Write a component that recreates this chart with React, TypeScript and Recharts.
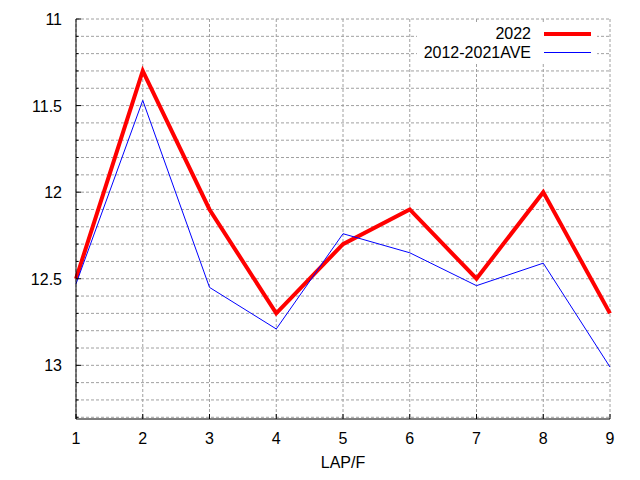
import React from "react";
import {
  LineChart,
  Line,
  XAxis,
  YAxis,
  CartesianGrid,
  Legend,
} from "recharts";

const laps = [1, 2, 3, 4, 5, 6, 7, 8, 9];
const time2022 = [12.5, 11.3, 12.1, 12.7, 12.3, 12.1, 12.5, 12.0, 12.7];
const timeAve = [12.53, 11.47, 12.55, 12.79, 12.24, 12.35, 12.54, 12.41, 13.01];

const xTicks = [1, 2, 3, 4, 5, 6, 7, 8, 9];
const yMajorTicks = [11, 11.5, 12, 12.5, 13];
const yMinorTicks = [
  11.1, 11.2, 11.3, 11.4, 11.6, 11.7, 11.8, 11.9, 12.1, 12.2, 12.3, 12.4,
  12.6, 12.7, 12.8, 12.9, 13.1, 13.2, 13.3,
];
const yAllTicks = [...yMajorTicks, ...yMinorTicks].sort((a, b) => a - b);

const data = laps.map((lap, i) => ({
  lap,
  y2022: time2022[i],
  ave: timeAve[i],
}));

const FONT = "'Liberation Sans', Arial, sans-serif";
const FS = 16;

const LeftTick = (props: any) => {
  const { x, y, payload } = props;
  const major = yMajorTicks.includes(payload.value);
  return (
    <g>
      <line x1={x} x2={x + (major ? 5 : 2.5)} y1={y} y2={y} stroke="#000" />
      {major && (
        <text x={x - 14} y={y + 6} textAnchor="end" fontSize={FS} fontFamily={FONT} fill="#000">
          {payload.value}
        </text>
      )}
    </g>
  );
};

const RightTick = (props: any) => {
  const { x, y, payload } = props;
  const major = yMajorTicks.includes(payload.value);
  return <line x1={x} x2={x - (major ? 5 : 2.5)} y1={y} y2={y} stroke="#000" />;
};

const BottomTick = (props: any) => {
  const { x, y, payload } = props;
  return (
    <g>
      <line x1={x} x2={x} y1={y} y2={y - 5} stroke="#000" />
      <text x={x} y={y + 25} textAnchor="middle" fontSize={FS} fontFamily={FONT} fill="#000">
        {payload.value}
      </text>
    </g>
  );
};

const TopTick = (props: any) => {
  const { x, y } = props;
  return <line x1={x} x2={x} y1={y} y2={y + 5} stroke="#000" />;
};

const legendRows = [
  { name: "2022", color: "#ff0000", width: 4 },
  { name: "2012-2021AVE", color: "#0000ff", width: 1 },
];

const KeyBox = () => (
  <div style={{ background: "#fff", width: 180, paddingTop: 1, paddingBottom: 1 }}>
    {legendRows.map((r) => (
      <div
        key={r.name}
        style={{
          display: "flex",
          justifyContent: "flex-end",
          alignItems: "center",
          height: 19,
          paddingRight: 6,
        }}
      >
        <span style={{ fontFamily: FONT, fontSize: FS, color: "#000", marginRight: 13 }}>
          {r.name}
        </span>
        <div style={{ width: 47, height: r.width, background: r.color }} />
      </div>
    ))}
  </div>
);

export default function App() {
  return (
    <div style={{ position: "absolute", left: 0, top: 0, background: "#fff" }}>
      <LineChart
        width={640}
        height={480}
        data={data}
        margin={{ top: 19, right: 30, bottom: 23, left: 0 }}
      >
        <CartesianGrid
          stroke="#a0a0a0"
          strokeDasharray="3 2"
          horizontalValues={yAllTicks}
          verticalValues={xTicks}
        />
        <XAxis
          dataKey="lap"
          type="number"
          domain={[1, 9]}
          ticks={xTicks}
          interval={0}
          height={38}
          tickSize={0}
          tickMargin={0}
          tickLine={false}
          axisLine={{ stroke: "#000" }}
          tick={<BottomTick />}
          label={{
            value: "LAP/F",
            position: "bottom",
            offset: 0,
            fontSize: FS,
            fontFamily: FONT,
            fill: "#000",
          }}
        />
        <XAxis
          xAxisId="top"
          orientation="top"
          dataKey="lap"
          type="number"
          domain={[1, 9]}
          ticks={xTicks}
          interval={0}
          height={0}
          tickSize={0}
          tickMargin={0}
          tickLine={false}
          axisLine={{ stroke: "#000" }}
          tick={<TopTick />}
        />
        <YAxis
          type="number"
          reversed
          domain={[11, 13.31]}
          allowDataOverflow
          ticks={yAllTicks}
          interval={0}
          width={76}
          tickSize={0}
          tickMargin={0}
          tickLine={false}
          axisLine={{ stroke: "#000" }}
          tick={<LeftTick />}
        />
        <YAxis
          yAxisId="right"
          orientation="right"
          type="number"
          reversed
          domain={[11, 13.31]}
          allowDataOverflow
          ticks={yAllTicks}
          interval={0}
          width={0}
          tickSize={0}
          tickMargin={0}
          tickLine={false}
          axisLine={{ stroke: "#000" }}
          tick={<RightTick />}
        />
        <Legend
          layout="horizontal"
          align="center"
          verticalAlign="middle"
          content={<KeyBox />}
          wrapperStyle={{ position: "absolute", top: 23, left: 417, width: 180, margin: 0 }}
        />
        <Line
          type="linear"
          dataKey="y2022"
          name="2022"
          stroke="#ff0000"
          strokeWidth={4}
          dot={false}
          activeDot={false}
          isAnimationActive={false}
        />
        <Line
          type="linear"
          dataKey="ave"
          name="2012-2021AVE"
          stroke="#0000ff"
          strokeWidth={1}
          dot={false}
          activeDot={false}
          isAnimationActive={false}
        />
      </LineChart>
    </div>
  );
}
